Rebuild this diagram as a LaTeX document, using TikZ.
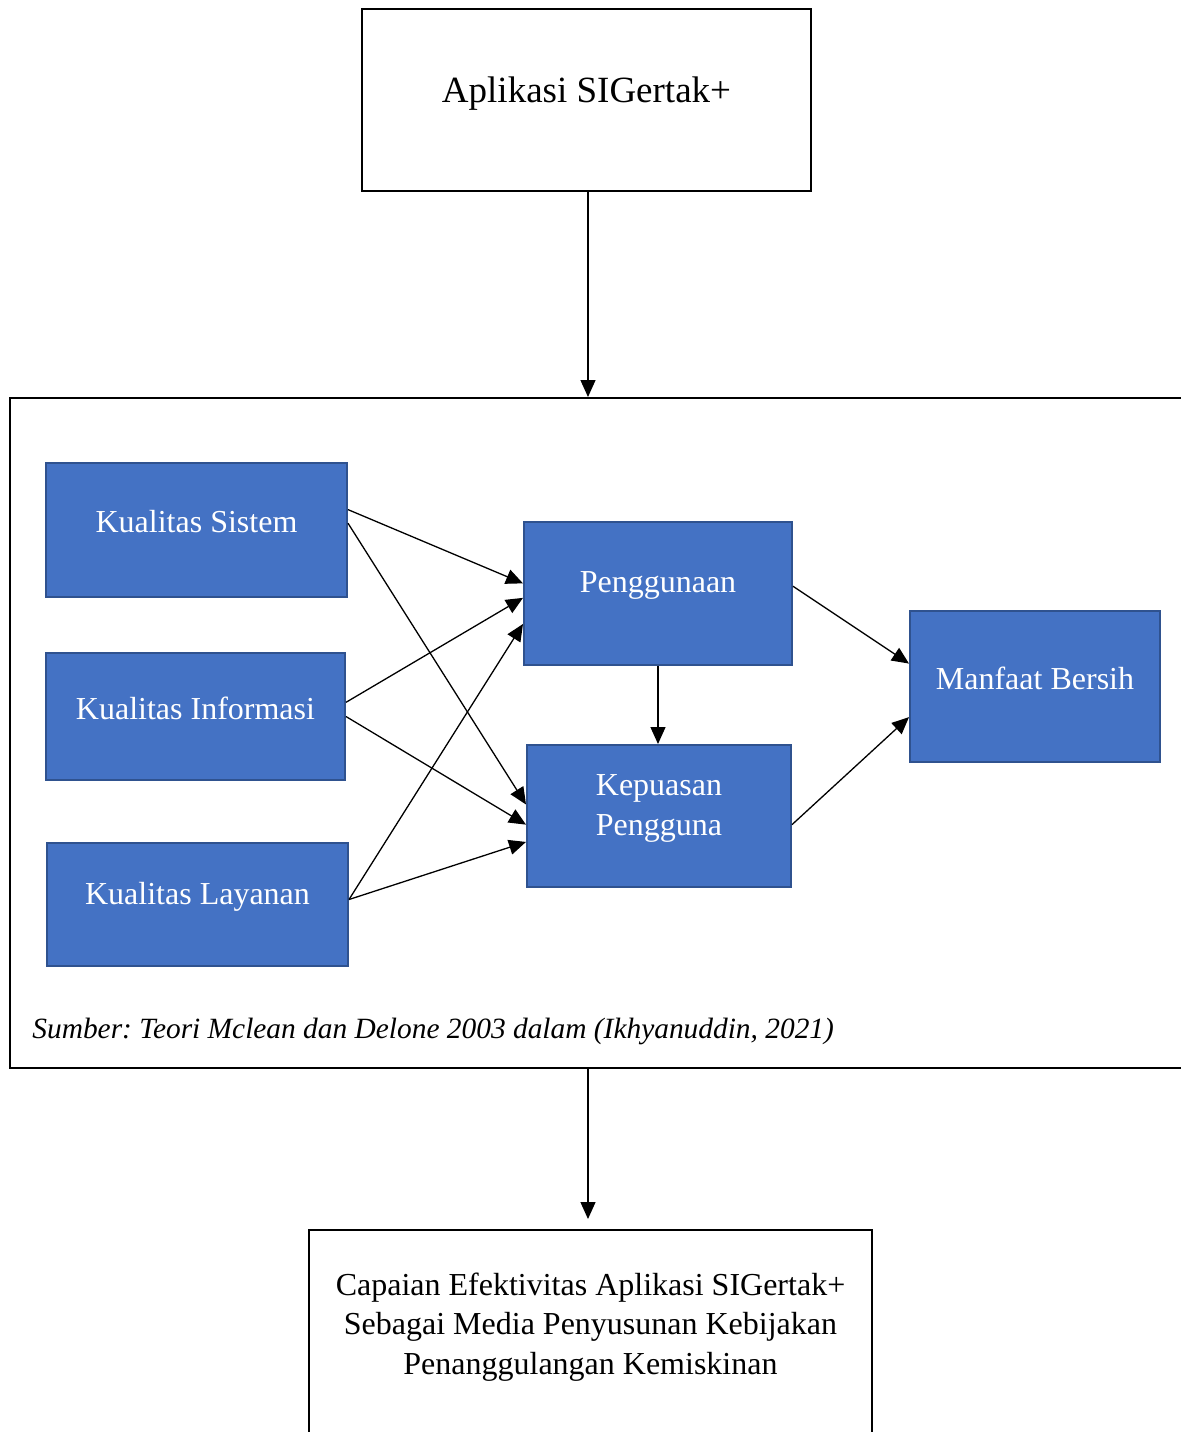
\documentclass[tikz,border=0pt]{standalone}
\usepackage{fontspec}
\setmainfont{Liberation Serif}
\usetikzlibrary{arrows.meta,positioning,calc}
\definecolor{boxblue}{HTML}{4472C4}
\definecolor{boxedge}{HTML}{2F528F}

\tikzset{
  plain/.style={draw, line width=1pt, fill=white},
  var/.style={draw=boxedge, line width=1pt, fill=boxblue},
  vartext/.style={text=white, font=\fontsize{16}{20}\selectfont, align=center, inner sep=0pt},
  conn/.style={-{Triangle[length=8.5pt,width=7.5pt]}, line width=0.65pt},
}
\frenchspacing

\begin{document}
\begin{tikzpicture}[x=0.5pt,y=-0.5pt]
  \useasboundingbox (0,0) rectangle (1181,1432);
  \clip (0,0) rectangle (1181,1432);

  % outer boxes
  \node[plain, minimum width=224.5pt, minimum height=91pt] (app) at (586.5,100) {};
  \node[inner sep=0pt, font=\fontsize{18.5}{22}\selectfont] (app-t) at ([yshift=3pt]app.center) {Aplikasi SIGertak+};
  \node[plain, minimum width=595pt, minimum height=335pt] (frame) at (605,733) {};
  \node[plain, minimum width=281.5pt, minimum height=130pt] (goal) at (590.5,1360) {};
  \node[inner sep=0pt, align=center, font=\fontsize{16}{19.75}\selectfont] (goal-t) at (590.5,1327)
    {Capaian Efektivitas Aplikasi SIGertak+\\Sebagai Media Penyusunan Kebijakan\\Penanggulangan Kemiskinan};

  % the model
  \node[var, minimum width=150.5pt, minimum height=67pt] (sys) at (196.5,530) {};
  \node[var, minimum width=149.5pt, minimum height=63.5pt] (inf) at (195.5,716.5) {};
  \node[var, minimum width=150.5pt, minimum height=61.5pt] (lay) at (197.5,904.5) {};
  \node[var, minimum width=134pt, minimum height=71.5pt] (use) at (658,593.5) {};
  \node[var, minimum width=132pt, minimum height=71pt] (kep) at (659,816) {};
  \node[var, minimum width=125pt, minimum height=75.5pt] (man) at (1035,686.5) {};

  \node[vartext] (sys-t) at ([yshift=4pt]sys.center) {Kualitas Sistem};
  \node[vartext] (inf-t) at ([yshift=4pt]inf.center) {Kualitas Informasi};
  \node[vartext] (lay-t) at ([yshift=4pt]lay.center) {Kualitas Layanan};
  \node[vartext] (use-t) at ([yshift=4pt]use.center) {Penggunaan};
  \node[vartext] (kep-t) at ([yshift=4pt]kep.center) {Kepuasan\\Pengguna};
  \node[vartext] (man-t) at ([yshift=4pt]man.center) {Manfaat Bersih};

  \node[anchor=west, inner sep=0pt, font=\fontsize{14.7}{18}\selectfont\itshape] (src) at (32,1031)
    {Sumber: Teori Mclean dan Delone 2003 dalam (Ikhyanuddin, 2021)};

  % arrows between the variables
  \draw[conn] ($(sys.north east)!.35!(sys.south east)$) -- ($(use.north west)!.43!(use.south west)$);
  \draw[conn] ($(sys.north east)!.45!(sys.south east)$) -- ($(kep.north west)!.42!(kep.south west)$);
  \draw[conn] ($(inf.north east)!.39!(inf.south east)$) -- ($(use.north west)!.53!(use.south west)$);
  \draw[conn] ($(inf.north east)!.50!(inf.south east)$) -- ($(kep.north west)!.56!(kep.south west)$);
  \draw[conn] ($(lay.north east)!.46!(lay.south east)$) -- ($(use.north west)!.71!(use.south west)$);
  \draw[conn] ($(lay.north east)!.46!(lay.south east)$) -- ($(kep.north west)!.68!(kep.south west)$);
  \draw[conn] (use.south) -- (use.south |- kep.north);
  \draw[conn] ($(use.north east)!.45!(use.south east)$) -- ($(man.north west)!.35!(man.south west)$);
  \draw[conn] ($(kep.north east)!.56!(kep.south east)$) -- ($(man.north west)!.70!(man.south west)$);

  % flow through the frame
  \draw[conn] ([xshift=0.75pt]app.south) -- ([xshift=0.75pt]app.south |- frame.north);
  \draw[conn] ([xshift=0.75pt]app.south |- frame.south) -- ([xshift=0.75pt,yshift=5pt]app.south |- goal.north);
\end{tikzpicture}
\end{document}
